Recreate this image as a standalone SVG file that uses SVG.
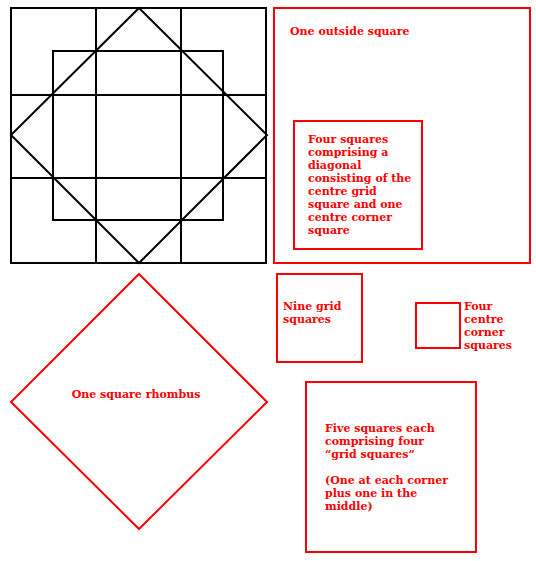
<svg xmlns="http://www.w3.org/2000/svg" width="536" height="561" viewBox="0 0 536 561">
<style>
.blk{fill:none;stroke:#000;stroke-width:2}
.red{fill:none;stroke:#f00;stroke-width:2}
text{font-family:"DejaVu Serif","Liberation Serif",serif;font-weight:bold;font-size:11px;fill:#f00}
</style>
<rect width="536" height="561" fill="#fff"/>
<g id="grid-figure">
<rect class="blk" x="11" y="8" width="255" height="255"/>
<line class="blk" x1="96" y1="8" x2="96" y2="263"/>
<line class="blk" x1="181" y1="8" x2="181" y2="263"/>
<line class="blk" x1="11" y1="95" x2="266" y2="95"/>
<line class="blk" x1="11" y1="178" x2="266" y2="178"/>
<rect class="blk" x="53" y="51" width="170" height="169"/>
<polygon class="blk" points="139,8 267,135 139,263 11,135"/>
</g>
<g id="outside-square">
<rect class="red" x="274" y="8" width="256" height="255"/>
<text x="290" y="35">One outside square</text>
</g>
<g id="four-squares">
<rect class="red" x="294" y="121" width="128" height="128"/>
<text x="308" y="143">Four squares</text>
<text x="308" y="156">comprising a</text>
<text x="308" y="169">diagonal</text>
<text x="308" y="182">consisting of the</text>
<text x="308" y="195">centre grid</text>
<text x="308" y="208">square and one</text>
<text x="308" y="221">centre corner</text>
<text x="308" y="234">square</text>
</g>
<g id="nine-grid">
<rect class="red" x="277" y="274" width="85" height="88"/>
<text x="283" y="310">Nine grid</text>
<text x="283" y="323">squares</text>
</g>
<g id="centre-corner">
<rect class="red" x="416" y="303" width="44" height="45"/>
<text x="464" y="310">Four</text>
<text x="464" y="323">centre</text>
<text x="464" y="336">corner</text>
<text x="464" y="349">squares</text>
</g>
<g id="rhombus">
<polygon class="red" points="139,274 267,402 139,529 11,402"/>
<text x="136" y="398" text-anchor="middle">One square rhombus</text>
</g>
<g id="five-squares">
<rect class="red" x="306" y="382" width="170" height="170"/>
<text x="325" y="432">Five squares each</text>
<text x="325" y="445">comprising four</text>
<text x="325" y="458">“grid squares”</text>
<text x="325" y="484">(One at each corner</text>
<text x="325" y="497">plus one in the</text>
<text x="325" y="510">middle)</text>
</g>
<g id="connectors"></g>
</svg>
